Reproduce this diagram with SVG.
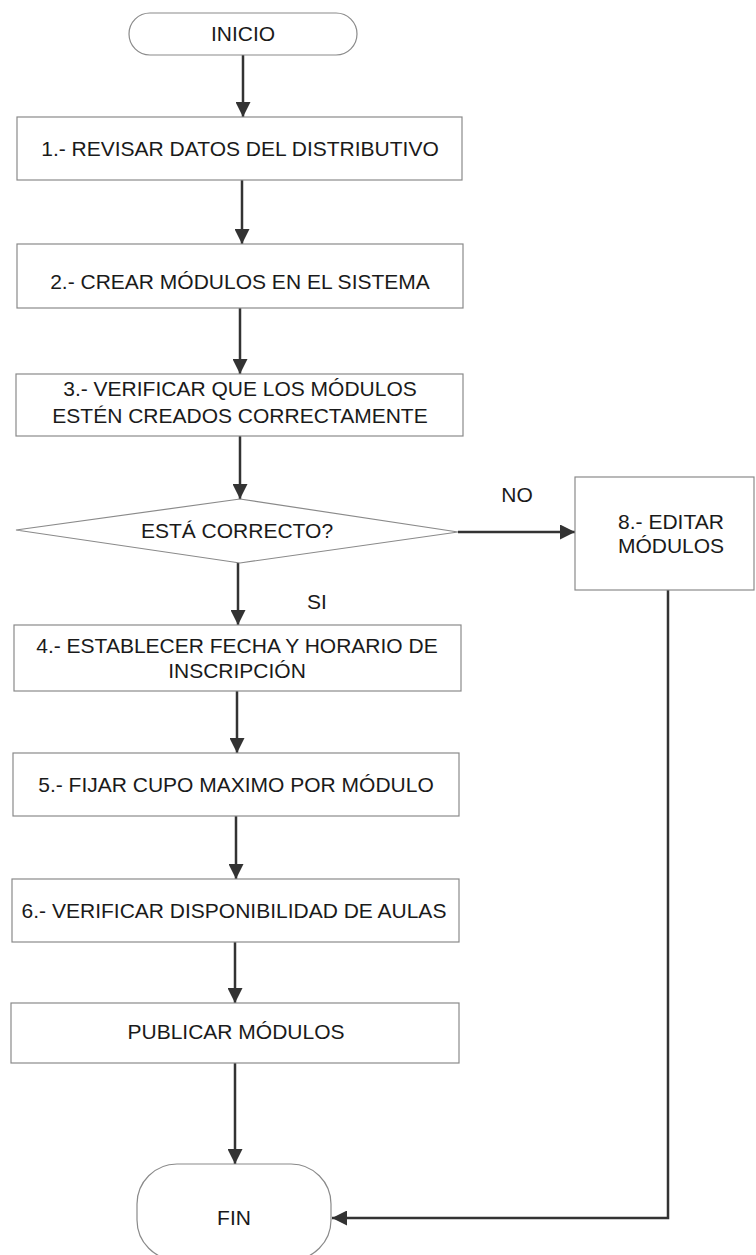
<svg xmlns="http://www.w3.org/2000/svg" width="756" height="1255" viewBox="0 0 756 1255">
  <defs>
    <style>
      .box { fill: #ffffff; stroke: #8a8a8a; stroke-width: 1.2; }
      .lbl { font-family: "Liberation Sans", Arial, sans-serif; font-size: 21px; fill: #1a1a1a; text-anchor: middle; }
      .flow { fill: none; stroke: #333333; stroke-width: 2.5; }
    </style>
    <marker id="arrow" viewBox="0 0 10 10" refX="10" refY="5" markerWidth="6" markerHeight="6" markerUnits="strokeWidth" orient="auto">
      <path d="M0,0 L10,5 L0,10 z" fill="#333333"/>
    </marker>
  </defs>
  <rect width="756" height="1255" fill="#ffffff"/>

  <!-- connectors -->
  <g id="connectors">
    <line class="flow" x1="243" y1="55" x2="243" y2="117" marker-end="url(#arrow)"/>
    <line class="flow" x1="242" y1="180" x2="242" y2="244" marker-end="url(#arrow)"/>
    <line class="flow" x1="240" y1="308" x2="240" y2="374" marker-end="url(#arrow)"/>
    <line class="flow" x1="240" y1="436" x2="240" y2="499" marker-end="url(#arrow)"/>
    <line class="flow" x1="458" y1="532" x2="575" y2="532" marker-end="url(#arrow)"/>
    <line class="flow" x1="238" y1="563" x2="238" y2="625" marker-end="url(#arrow)"/>
    <line class="flow" x1="237" y1="691" x2="237" y2="753" marker-end="url(#arrow)"/>
    <line class="flow" x1="236" y1="816" x2="236" y2="879" marker-end="url(#arrow)"/>
    <line class="flow" x1="235" y1="942" x2="235" y2="1003" marker-end="url(#arrow)"/>
    <line class="flow" x1="235" y1="1063" x2="235" y2="1164" marker-end="url(#arrow)"/>
    <polyline class="flow" points="668,590 668,1218 332,1218" marker-end="url(#arrow)"/>
    <text class="lbl" x="517" y="502">NO</text>
    <text class="lbl" x="317" y="609">SI</text>
  </g>

  <g id="inicio">
    <rect class="box" x="129" y="13" width="228" height="42" rx="21" ry="21"/>
    <text class="lbl" x="243" y="41">INICIO</text>
  </g>

  <g id="paso1">
    <rect class="box" x="17" y="117" width="445" height="63"/>
    <text class="lbl" x="240" y="156">1.- REVISAR DATOS DEL DISTRIBUTIVO</text>
  </g>

  <g id="paso2">
    <rect class="box" x="17" y="244" width="446" height="64"/>
    <text class="lbl" x="240" y="289">2.- CREAR MÓDULOS EN EL SISTEMA</text>
  </g>

  <g id="paso3">
    <rect class="box" x="16" y="374" width="447" height="62"/>
    <text class="lbl" x="240" y="396">3.- VERIFICAR QUE LOS MÓDULOS</text>
    <text class="lbl" x="240" y="423">ESTÉN CREADOS CORRECTAMENTE</text>
  </g>

  <g id="decision">
    <polygon class="box" points="240,499 458,532 240,563 16,530"/>
    <text class="lbl" x="237" y="538">ESTÁ CORRECTO?</text>
  </g>

  <g id="paso8">
    <rect class="box" x="575" y="477" width="179" height="113"/>
    <text class="lbl" x="671" y="529">8.- EDITAR</text>
    <text class="lbl" x="671" y="553">MÓDULOS</text>
  </g>

  <g id="paso4">
    <rect class="box" x="14" y="625" width="447" height="66"/>
    <text class="lbl" x="237" y="653">4.- ESTABLECER FECHA Y HORARIO DE</text>
    <text class="lbl" x="237" y="678">INSCRIPCIÓN</text>
  </g>

  <g id="paso5">
    <rect class="box" x="13" y="753" width="446" height="63"/>
    <text class="lbl" x="236" y="792">5.- FIJAR CUPO MAXIMO POR MÓDULO</text>
  </g>

  <g id="paso6">
    <rect class="box" x="12" y="879" width="447" height="63"/>
    <text class="lbl" x="234" y="918">6.- VERIFICAR DISPONIBILIDAD DE AULAS</text>
  </g>

  <g id="paso7">
    <rect class="box" x="11" y="1003" width="448" height="60"/>
    <text class="lbl" x="236" y="1039">PUBLICAR MÓDULOS</text>
  </g>

  <g id="fin">
    <rect class="box" x="137" y="1164" width="194" height="96" rx="40" ry="40"/>
    <text class="lbl" x="234" y="1225">FIN</text>
  </g>
</svg>
